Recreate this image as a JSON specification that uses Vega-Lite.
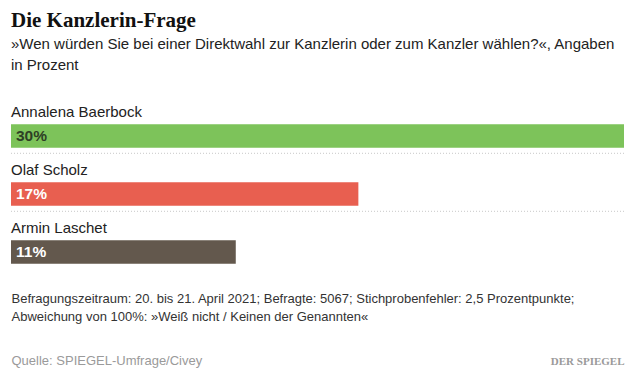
{
  "$schema": "https://vega.github.io/schema/vega-lite/v6.json",
  "width": 613,
  "height": 174,
  "autosize": {"type": "none"},
  "padding": {"left": 11, "top": 107, "right": 14, "bottom": 94},
  "background": "#ffffff",
  "config": {"view": {"stroke": null}},
  "title": {
    "text": "Die Kanzlerin-Frage",
    "subtitle": ["»Wen würden Sie bei einer Direktwahl zur Kanzlerin oder zum Kanzler wählen?«, Angaben", "in Prozent"],
    "anchor": "start",
    "frame": "group",
    "font": "Liberation Serif",
    "fontSize": 21,
    "fontWeight": "bold",
    "color": "#111111",
    "subtitleFont": "Liberation Sans",
    "subtitleFontSize": 15,
    "subtitleColor": "#222222",
    "subtitleLineHeight": 21,
    "subtitlePadding": 6,
    "offset": 32
  },
  "data": {
    "values": [
      {"name": "Annalena Baerbock", "share": 0.30},
      {"name": "Olaf Scholz", "share": 0.17},
      {"name": "Armin Laschet", "share": 0.11}
    ]
  },
  "layer": [
    {
      "layer": [
        {
          "mark": {"type": "bar", "height": 23.5},
          "encoding": {
            "y": {"field": "name", "type": "nominal", "sort": null, "axis": null,
                  "scale": {"domain": ["Annalena Baerbock", "Olaf Scholz", "Armin Laschet"], "paddingInner": 0, "paddingOuter": 0}},
            "x": {"field": "share", "type": "quantitative",
                  "scale": {"domain": [0, 0.3], "nice": false, "zero": true},
                  "axis": {"orient": "bottom", "domain": false, "ticks": false, "labels": false, "grid": false,
                           "title": ["Befragungszeitraum: 20. bis 21. April 2021; Befragte: 5067; Stichprobenfehler: 2,5 Prozentpunkte;", "Abweichung von 100%: »Weiß nicht / Keinen der Genannten«"],
                           "titleFont": "Liberation Sans", "titleFontSize": 13, "titleFontWeight": "normal", "titleColor": "#333333",
                           "titleLineHeight": 18, "titleAnchor": "start", "titleAlign": "left", "titleBaseline": "top", "titlePadding": 11, "titleLimit": 0}},
            "color": {"field": "name", "type": "nominal", "legend": null,
                      "scale": {"domain": ["Annalena Baerbock", "Olaf Scholz", "Armin Laschet"], "range": ["#7dc35a", "#e85f50", "#63584d"]}}
          }
        },
        {
          "mark": {"type": "text", "align": "left", "baseline": "middle", "dx": 5, "font": "Liberation Sans", "fontSize": 15.5, "fontWeight": "bold"},
          "encoding": {
            "y": {"field": "name", "type": "nominal", "sort": null},
            "x": {"datum": 0, "type": "quantitative"},
            "text": {"field": "share", "type": "quantitative", "format": ".0%"},
            "color": {"condition": {"test": "datum.name === 'Annalena Baerbock'", "value": "#2e3f25"}, "value": "#ffffff"}
          }
        },
        {
          "mark": {"type": "text", "align": "left", "baseline": "alphabetic", "yOffset": -19.3, "font": "Liberation Sans", "fontSize": 15, "color": "#222222"},
          "encoding": {
            "y": {"field": "name", "type": "nominal", "sort": null},
            "x": {"datum": 0, "type": "quantitative"},
            "text": {"field": "name", "type": "nominal"}
          }
        }
      ]
    },
    {
      "transform": [{"filter": "datum.name !== 'Armin Laschet'"}],
      "mark": {"type": "rule", "yOffset": 17.3, "strokeDash": [1, 2], "strokeWidth": 1, "color": "#c8c8c8"},
      "encoding": {
        "y": {"field": "name", "type": "nominal", "sort": null},
        "x": {"datum": 0, "type": "quantitative",
              "scale": {"domain": [0, 0.3], "nice": false},
              "axis": {"orient": "bottom", "offset": 83, "domain": false, "ticks": false, "tickSize": 0, "grid": false, "title": null,
                       "values": [0, 0.3], "labelFlush": true, "labelOverlap": false, "labelBound": false, "labelPadding": 0,
                       "labelBaseline": "alphabetic", "labelLimit": 0,
                       "labelExpr": "datum.value === 0 ? 'Quelle: SPIEGEL-Umfrage/Civey' : 'DER SPIEGEL'",
                       "labelColor": "#9a9a9a",
                       "labelFont": {"condition": {"test": "datum.value > 0", "value": "Liberation Serif"}, "value": "Liberation Sans"},
                       "labelFontSize": {"condition": {"test": "datum.value > 0", "value": 11}, "value": 13},
                       "labelFontWeight": {"condition": {"test": "datum.value > 0", "value": "bold"}, "value": "normal"}}},
        "x2": {"datum": 0.3}
      }
    }
  ],
  "resolve": {"scale": {"x": "independent"}, "axis": {"x": "independent"}}
}
